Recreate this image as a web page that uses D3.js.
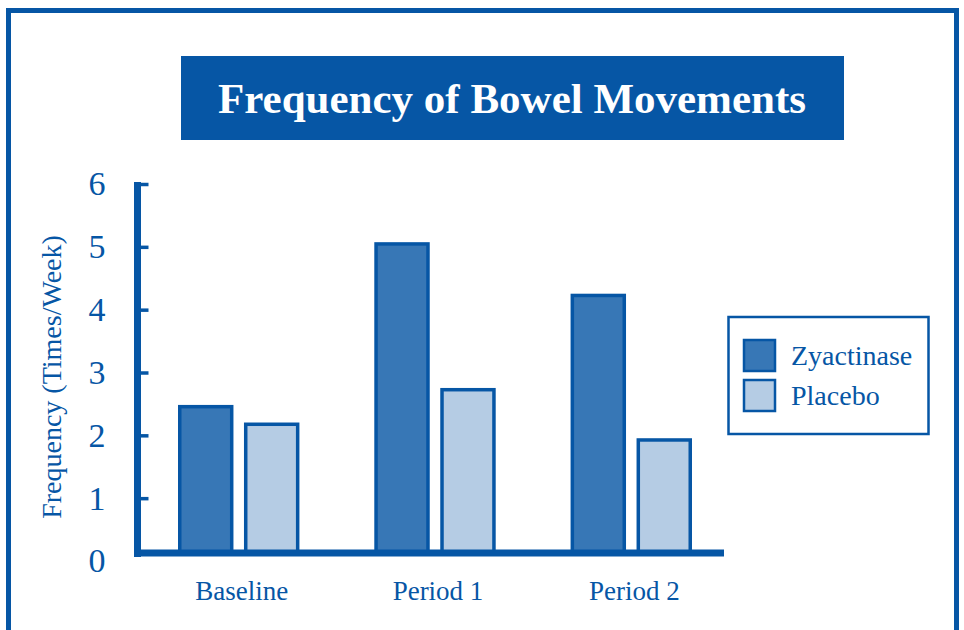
<!DOCTYPE html>
<html lang="en">
<head>
    <meta charset="UTF-8">
    <title>Frequency of Bowel Movements</title>
    <script src="https://d3js.org/d3.v7.min.js"></script>
    <style>
        body { margin: 0; background: white; }
        text { font-family: "Liberation Serif", serif; fill: #0656a5; }
    </style>
</head>
<body>
<svg height="630" width="964"></svg>

<script>
    const categories = ["Baseline", "Period 1", "Period 2"];
    const series = ["Zyactinase", "Placebo"];
    const zyactinase = [2.48, 5.07, 4.25];
    const placebo = [2.2, 2.75, 1.95];
    const yTicks = [0, 1, 2, 3, 4, 5, 6];

    const blue = "#0656a5";
    const colors = {Zyactinase: "#3777b6", Placebo: "#b5cce4"};

    const svg = d3.select("svg");

    // outer frame (bottom edge runs off the page)
    svg.append("rect")
            .attr("x", 8.5).attr("y", 10.5)
            .attr("width", 948).attr("height", 700)
            .attr("fill", "none")
            .attr("stroke", blue)
            .attr("stroke-width", 5);

    // title banner
    svg.append("rect")
            .attr("x", 181).attr("y", 56)
            .attr("width", 663).attr("height", 84)
            .attr("fill", blue);
    svg.append("text")
            .attr("x", 512).attr("y", 113)
            .attr("text-anchor", "middle")
            .style("font-size", "43px")
            .style("font-weight", "bold")
            .style("fill", "white")
            .text("Frequency of Bowel Movements");

    const y = d3.scaleLinear().domain([0, 6]).range([561, 184]);
    const baseY = 553;

    const x0 = d3.scaleBand()
            .domain(categories)
            .range([139, 731])
            .paddingInner(0.384)
            .paddingOuter(0.2);
    const x1 = d3.scaleBand()
            .domain(series)
            .range([0, x0.bandwidth()])
            .paddingInner(0.167);

    const rows = categories.map((c, i) => ({
        category: c,
        values: [
            {key: "Zyactinase", value: zyactinase[i]},
            {key: "Placebo", value: placebo[i]}
        ]
    }));

    // bars
    const groups = svg.selectAll("g.group")
            .data(rows)
            .enter()
            .append("g")
            .attr("class", "group")
            .attr("transform", d => `translate(${x0(d.category)},0)`);
    groups.selectAll("rect")
            .data(d => d.values)
            .enter()
            .append("rect")
            .attr("x", d => x1(d.key) + 1.5)
            .attr("y", d => y(d.value) + 1.5)
            .attr("width", x1.bandwidth() - 3)
            .attr("height", d => baseY - y(d.value) - 1.5)
            .attr("fill", d => colors[d.key])
            .attr("stroke", blue)
            .attr("stroke-width", 3.5);

    // y axis: ticks point right, labels on the left
    const yAxis = d3.axisLeft(y)
            .tickValues(yTicks)
            .tickFormat(d3.format("d"))
            .tickSizeInner(-11)
            .tickSizeOuter(0)
            .tickPadding(32);
    const ax = svg.append("g")
            .attr("transform", "translate(137.5,0)")
            .call(yAxis);
    ax.select(".domain").remove();
    ax.selectAll(".tick line")
            .attr("stroke", blue)
            .attr("stroke-width", 3.5)
            .filter(d => d === 0).remove();
    ax.selectAll(".tick text")
            .attr("fill", blue)
            .style("font-size", "34px")
            .style("font-family", "Liberation Serif, serif");

    svg.append("line")
            .attr("x1", 137.5).attr("x2", 137.5)
            .attr("y1", 182).attr("y2", 557)
            .attr("stroke", blue)
            .attr("stroke-width", 7);
    svg.append("line")
            .attr("x1", 134).attr("x2", 724)
            .attr("y1", baseY).attr("y2", baseY)
            .attr("stroke", blue)
            .attr("stroke-width", 7);

    // category labels
    svg.selectAll("text.cat")
            .data(categories)
            .enter()
            .append("text")
            .attr("class", "cat")
            .attr("x", d => x0(d) + x0.bandwidth() / 2 + 3)
            .attr("y", 600)
            .attr("text-anchor", "middle")
            .style("font-size", "27px")
            .text(d => d);

    // y axis title
    svg.append("text")
            .attr("transform", "translate(61,377) rotate(-90)")
            .attr("text-anchor", "middle")
            .style("font-size", "28px")
            .text("Frequency (Times/Week)");

    // legend
    const legend = svg.append("g");
    legend.append("rect")
            .attr("x", 728.5).attr("y", 317)
            .attr("width", 200).attr("height", 117)
            .attr("fill", "white")
            .attr("stroke", blue)
            .attr("stroke-width", 2.5);
    const items = legend.selectAll("g.item")
            .data(series)
            .enter()
            .append("g")
            .attr("class", "item")
            .attr("transform", (d, i) => `translate(0,${i * 40})`);
    items.append("rect")
            .attr("x", 744).attr("y", 340)
            .attr("width", 31).attr("height", 31)
            .attr("fill", d => colors[d])
            .attr("stroke", blue)
            .attr("stroke-width", 2.5);
    items.append("text")
            .attr("x", 791).attr("y", 365)
            .style("font-size", "28px")
            .text(d => d);
</script>

</body>
</html>
